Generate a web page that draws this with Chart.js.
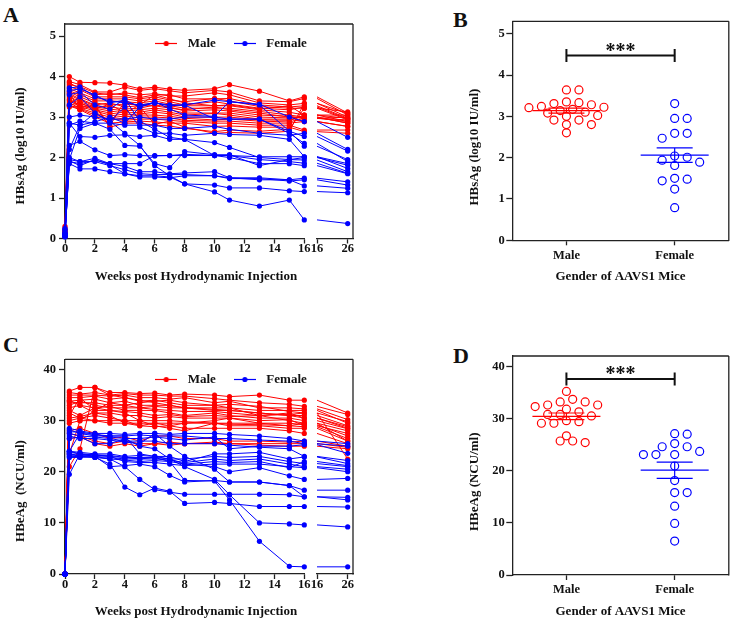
<!DOCTYPE html>
<html>
<head>
<meta charset="utf-8">
<script src="https://cdn.jsdelivr.net/npm/chart.js@4.4.1/dist/chart.umd.min.js"></script>
<style>
html,body{margin:0;padding:0;background:#fff;}
body{width:734px;height:621px;position:relative;overflow:hidden;font-family:'Liberation Serif','Times New Roman',serif;}
canvas{position:absolute;}
.lbl{position:absolute;font-weight:bold;font-size:22px;line-height:22px;color:#111;}
</style>
</head>
<body>
<div class="lbl" style="left:3px;top:4px">A</div>
<div class="lbl" style="left:453px;top:9px">B</div>
<div class="lbl" style="left:3px;top:334px">C</div>
<div class="lbl" style="left:453px;top:345px">D</div>

<canvas id="aL" width="317" height="300" style="left:0;top:0;width:317px;height:300px"></canvas>
<canvas id="aR" width="53" height="300" style="left:305px;top:0;width:53px;height:300px"></canvas>
<canvas id="b" width="354" height="300" style="left:380px;top:0;width:354px;height:300px"></canvas>
<canvas id="cL" width="317" height="311" style="left:0;top:310px;width:317px;height:311px"></canvas>
<canvas id="cR" width="53" height="311" style="left:305px;top:310px;width:53px;height:311px"></canvas>
<canvas id="d" width="354" height="311" style="left:380px;top:310px;width:354px;height:311px"></canvas>
<canvas id="aLeg" width="200" height="90" style="left:129px;top:23px;width:200px;height:90px"></canvas>
<canvas id="cLeg" width="200" height="90" style="left:129px;top:359px;width:200px;height:90px"></canvas>

<script>
// ---------------- DATA ----------------
const weeksEarly = [0, 0.29, 1, 2, 3, 4, 5, 6, 7, 8, 10, 11, 13, 15, 16];
const weeksLate = [16, 26];
const ticksEarly = [0, 2, 4, 6, 8, 10, 12, 14, 16];
const ticksLate = [16, 26];
const hbsTicks = [0, 1, 2, 3, 4, 5];
const hbeTicks = [0, 10, 20, 30, 40];
const groups = ['Male', 'Female'];

// HBsAg (log10 IU/ml) per mouse, values at weeksEarly then week 26
const hbsAgMale = [
  [0.30, 4.00, 3.86, 3.85, 3.84, 3.79, 3.70, 3.74, 3.69, 3.66, 3.70, 3.80, 3.64, 3.40, 3.50, 3.10],
  [0.25, 3.88, 3.80, 3.62, 3.62, 3.74, 3.66, 3.70, 3.65, 3.60, 3.66, 3.62, 3.40, 3.38, 3.46, 3.05],
  [0.20, 3.80, 3.75, 3.60, 3.55, 3.60, 3.55, 3.58, 3.52, 3.52, 3.60, 3.55, 3.35, 3.30, 3.34, 3.00],
  [0.15, 3.85, 3.70, 3.55, 3.58, 3.55, 3.48, 3.55, 3.55, 3.45, 3.45, 3.46, 3.30, 3.25, 3.28, 2.97],
  [0.10, 3.75, 3.67, 3.50, 3.50, 3.50, 3.45, 3.50, 3.42, 3.38, 3.46, 3.40, 3.26, 3.22, 3.22, 2.93],
  [0.12, 3.70, 3.60, 3.45, 3.45, 3.45, 3.40, 3.45, 3.38, 3.30, 3.38, 3.32, 3.22, 3.18, 3.25, 2.95],
  [0.08, 3.65, 3.55, 3.40, 3.40, 3.38, 3.35, 3.40, 3.32, 3.28, 3.28, 3.28, 3.18, 3.12, 3.05, 2.89],
  [0.10, 3.62, 3.50, 3.35, 3.30, 3.32, 3.30, 3.35, 3.28, 3.22, 3.22, 3.22, 3.14, 3.05, 3.00, 2.85],
  [0.05, 3.58, 3.45, 3.30, 3.35, 3.25, 3.28, 3.28, 3.22, 3.18, 3.25, 3.18, 3.10, 3.00, 2.97, 2.93],
  [0.10, 3.55, 3.42, 3.28, 3.25, 3.20, 3.22, 3.30, 3.25, 3.15, 3.18, 3.15, 3.05, 3.02, 2.97, 2.89],
  [0.15, 3.50, 3.38, 3.25, 3.20, 3.15, 3.18, 3.22, 3.18, 3.10, 3.10, 3.10, 3.00, 2.98, 3.00, 2.85],
  [0.10, 3.45, 3.34, 3.22, 3.15, 3.10, 3.12, 3.18, 3.12, 3.05, 3.09, 3.05, 2.95, 2.95, 2.89, 2.77],
  [0.20, 3.42, 3.30, 3.18, 3.10, 3.05, 3.08, 3.12, 3.08, 3.00, 3.00, 3.00, 2.93, 2.92, 3.05, 2.97],
  [0.08, 3.40, 3.26, 3.15, 3.05, 3.00, 3.05, 3.05, 3.02, 2.97, 2.93, 2.95, 2.90, 2.88, 2.97, 3.00],
  [0.12, 3.35, 3.22, 3.10, 3.00, 2.95, 3.00, 3.00, 2.98, 2.92, 2.90, 2.90, 2.85, 2.85, 2.89, 2.77],
  [0.06, 3.30, 3.20, 3.05, 2.95, 2.92, 2.95, 2.95, 2.92, 2.89, 2.85, 2.85, 2.80, 2.80, 2.68, 2.68],
  [0.10, 3.28, 3.18, 3.00, 2.85, 2.88, 2.90, 2.88, 2.85, 2.85, 2.77, 2.78, 2.75, 2.75, 2.64, 2.60],
  [0.05, 3.25, 3.26, 3.28, 2.75, 2.85, 2.85, 2.80, 2.78, 2.72, 2.64, 2.68, 2.65, 2.70, 3.22, 3.13],
  [0.15, 3.60, 3.18, 3.30, 2.78, 3.40, 3.25, 2.82, 2.90, 2.75, 2.60, 2.62, 2.60, 2.65, 3.34, 3.09],
  [0.10, 3.30, 3.35, 3.20, 3.32, 3.10, 3.30, 3.55, 3.45, 3.35, 3.28, 3.30, 3.20, 3.28, 3.05, 3.05]
];
const hbsAgFemale = [
  [0.25, 3.72, 3.75, 3.50, 3.40, 3.35, 3.30, 3.35, 3.30, 3.30, 3.42, 3.38, 3.32, 3.00, 2.89, 2.50],
  [0.20, 3.65, 3.70, 3.55, 3.35, 3.42, 3.25, 3.38, 3.20, 3.05, 3.02, 3.38, 3.30, 2.65, 2.28, 1.95],
  [0.15, 3.55, 3.62, 3.30, 3.20, 3.45, 2.90, 2.70, 2.50, 2.45, 2.05, 2.00, 1.85, 1.85, 1.80, 1.60],
  [0.22, 3.30, 3.50, 3.10, 2.90, 2.60, 2.30, 1.80, 1.55, 1.35, 1.15, 0.95, 0.80, 0.95, 0.46, 0.37],
  [0.10, 3.00, 3.05, 3.00, 2.95, 2.95, 3.00, 2.95, 2.95, 3.00, 3.00, 2.95, 2.95, 2.60, 2.35, 1.90],
  [0.12, 2.85, 2.80, 2.88, 3.00, 2.85, 3.25, 3.35, 3.28, 3.30, 2.95, 2.95, 2.95, 2.65, 2.52, 2.16],
  [0.08, 2.80, 2.90, 2.85, 2.85, 2.80, 2.80, 2.80, 2.72, 2.72, 2.77, 2.70, 2.60, 2.55, 2.60, 2.20],
  [0.10, 2.20, 2.80, 3.10, 2.90, 3.25, 2.75, 2.60, 2.60, 2.55, 2.60, 2.57, 2.55, 2.45, 2.02, 1.85],
  [0.05, 2.85, 2.52, 2.50, 2.55, 2.56, 2.52, 2.55, 2.45, 2.45, 2.37, 2.25, 2.00, 1.95, 2.00, 1.81],
  [0.10, 2.30, 2.40, 2.19, 2.05, 2.07, 2.05, 2.04, 2.05, 2.05, 2.05, 2.05, 2.02, 2.02, 2.02, 1.73],
  [0.08, 1.95, 2.72, 2.85, 2.70, 2.30, 2.28, 1.85, 1.75, 2.15, 2.07, 2.07, 1.80, 1.95, 1.94, 1.65],
  [0.12, 2.00, 1.90, 1.98, 1.85, 1.85, 1.85, 2.05, 2.05, 2.08, 2.05, 2.05, 1.95, 1.90, 1.86, 1.61],
  [0.05, 1.90, 1.85, 1.93, 1.85, 1.78, 1.65, 1.65, 1.60, 1.62, 1.65, 1.50, 1.50, 1.45, 1.49, 1.40],
  [0.06, 1.95, 1.90, 1.90, 1.80, 1.70, 1.60, 1.58, 1.58, 1.58, 1.55, 1.48, 1.48, 1.42, 1.45, 1.32],
  [0.10, 1.85, 1.72, 1.72, 1.65, 1.60, 1.52, 1.52, 1.50, 1.55, 1.55, 1.50, 1.45, 1.45, 1.30, 1.24],
  [0.04, 1.92, 1.80, 1.95, 1.82, 1.60, 1.55, 1.55, 1.52, 1.35, 1.32, 1.25, 1.25, 1.18, 1.16, 1.13]
];

// HBeAg (NCU/ml) per mouse, values at weeksEarly then week 26
const hbeAgMale = [
  [0, 35.8, 36.5, 36.5, 35.5, 35.5, 35.3, 35.4, 35.0, 35.2, 35.0, 34.7, 35.0, 34.0, 34.0, 31.5],
  [0, 35.5, 35.2, 35.5, 35.0, 35.3, 35.0, 35.0, 34.8, 34.8, 34.3, 34.0, 33.5, 33.2, 32.8, 31.2],
  [0, 35.0, 35.0, 35.0, 34.8, 35.0, 34.5, 34.5, 34.2, 34.5, 33.5, 33.8, 32.5, 32.5, 32.3, 30.2],
  [0, 34.5, 34.5, 34.8, 34.2, 34.5, 33.8, 34.0, 33.5, 33.0, 33.0, 33.2, 32.8, 31.8, 31.5, 29.8],
  [0, 33.8, 34.0, 34.2, 33.5, 33.8, 33.0, 33.0, 33.0, 32.5, 32.5, 32.5, 32.0, 32.0, 32.0, 29.5],
  [0, 33.5, 33.5, 33.5, 33.0, 33.0, 32.5, 32.8, 32.5, 32.5, 32.2, 32.0, 31.5, 31.0, 31.0, 29.0],
  [0, 33.0, 33.8, 33.0, 32.5, 32.5, 32.5, 32.2, 32.0, 31.8, 31.8, 31.5, 31.0, 31.5, 30.5, 28.8],
  [0, 32.5, 33.0, 32.5, 32.8, 32.0, 32.0, 32.0, 31.5, 31.0, 31.5, 31.0, 30.5, 30.5, 30.0, 28.4],
  [0, 31.0, 34.5, 32.0, 32.0, 31.8, 31.5, 31.0, 31.2, 30.8, 31.0, 30.8, 31.0, 30.0, 29.5, 28.0],
  [0, 30.5, 30.8, 31.5, 31.5, 31.0, 31.0, 30.5, 30.8, 30.5, 30.5, 30.5, 30.0, 30.2, 29.0, 27.5],
  [0, 30.0, 30.5, 30.0, 30.0, 30.0, 30.0, 30.0, 30.0, 29.8, 29.5, 29.5, 29.5, 29.5, 29.2, 27.0],
  [0, 29.5, 30.0, 30.0, 29.5, 29.5, 29.5, 29.5, 29.5, 29.5, 29.5, 29.3, 29.2, 29.0, 28.8, 26.5],
  [0, 32.0, 31.0, 32.5, 32.0, 31.5, 30.0, 29.0, 28.5, 28.0, 29.5, 29.0, 29.0, 28.5, 28.5, 26.0],
  [0, 31.5, 30.5, 31.0, 30.5, 30.0, 29.0, 28.8, 29.0, 28.5, 28.5, 28.5, 28.5, 28.0, 27.5, 25.5],
  [0, 28.0, 28.5, 27.5, 26.5, 26.8, 26.0, 27.0, 27.0, 26.5, 26.5, 26.0, 26.0, 25.8, 26.0, 25.0],
  [0, 27.5, 27.0, 26.0, 25.5, 26.0, 25.5, 25.5, 25.8, 25.5, 25.5, 25.5, 25.5, 25.5, 25.5, 24.8],
  [0, 26.5, 26.8, 25.5, 25.0, 25.5, 25.0, 25.5, 25.2, 25.5, 25.8, 25.5, 25.2, 25.0, 25.0, 24.5],
  [0, 21.0, 24.5, 36.5, 35.0, 34.5, 34.0, 33.5, 33.0, 32.5, 32.0, 32.0, 31.5, 31.0, 30.5, 28.5],
  [0, 23.5, 30.0, 32.0, 33.5, 33.0, 33.5, 33.8, 34.0, 33.5, 33.0, 32.5, 31.0, 31.2, 31.5, 22.5],
  [0, 34.0, 33.0, 31.5, 31.0, 29.5, 29.0, 29.5, 29.0, 29.5, 30.0, 30.5, 29.5, 29.0, 29.5, 26.0]
];
const hbeAgFemale = [
  [0, 28.5, 28.0, 27.5, 27.5, 27.3, 27.5, 27.5, 27.3, 27.5, 27.5, 27.3, 27.0, 26.5, 26.0, 25.5],
  [0, 28.2, 27.5, 27.0, 27.0, 27.0, 27.2, 27.0, 27.0, 27.0, 26.5, 26.5, 26.2, 26.0, 25.5, 25.0],
  [0, 27.8, 27.8, 27.3, 26.8, 26.5, 26.5, 26.8, 26.5, 26.2, 26.8, 24.5, 25.0, 25.0, 25.3, 23.6],
  [0, 27.5, 27.0, 26.8, 26.5, 26.0, 26.0, 26.0, 25.5, 25.5, 25.5, 25.2, 24.8, 24.5, 23.0, 22.2],
  [0, 27.0, 26.5, 26.5, 26.2, 25.8, 25.5, 27.5, 25.0, 23.0, 20.5, 18.0, 18.0, 17.3, 16.4, 16.4],
  [0, 26.5, 26.8, 25.5, 25.5, 26.5, 25.0, 24.5, 22.5, 21.0, 18.5, 15.5, 10.0, 9.8, 9.6, 9.2],
  [0, 24.0, 23.8, 23.5, 23.5, 23.0, 23.2, 23.0, 23.0, 22.0, 23.5, 23.5, 23.8, 22.5, 22.9, 21.6],
  [0, 23.8, 23.5, 23.3, 23.0, 22.8, 22.8, 22.8, 22.5, 22.5, 23.0, 22.8, 23.0, 22.0, 21.6, 21.0],
  [0, 23.5, 23.2, 23.0, 22.8, 22.5, 22.5, 22.5, 22.3, 21.8, 22.5, 22.2, 22.5, 21.5, 21.0, 20.5],
  [0, 23.2, 23.0, 22.8, 22.5, 22.3, 22.0, 22.2, 22.0, 21.5, 22.0, 21.8, 22.0, 20.8, 22.0, 21.2],
  [0, 23.0, 23.0, 23.3, 23.0, 22.0, 21.8, 21.8, 21.5, 21.2, 21.5, 21.5, 21.5, 21.0, 20.8, 20.0],
  [0, 22.8, 22.8, 23.0, 21.0, 21.2, 21.5, 21.0, 19.3, 18.0, 18.3, 18.0, 18.0, 17.3, 15.1, 15.0],
  [0, 24.0, 23.5, 23.0, 22.5, 21.0, 18.5, 16.5, 16.0, 15.6, 15.6, 15.6, 15.6, 15.5, 15.1, 14.5],
  [0, 23.5, 23.0, 22.8, 21.5, 17.0, 15.5, 16.8, 16.2, 13.8, 14.0, 13.8, 13.2, 13.2, 13.2, 13.1],
  [0, 19.5, 23.5, 23.3, 23.2, 22.8, 22.5, 22.8, 22.0, 18.3, 18.2, 14.5, 6.4, 1.5, 1.4, 1.4],
  [0, 24.0, 27.5, 27.3, 27.0, 27.0, 23.5, 23.0, 22.5, 21.5, 21.0, 20.0, 20.8, 19.2, 18.5, 18.7]
];

// Per-mouse values compared by gender (panels B and D)
const hbsAgGroupMale = [3.64, 3.64, 3.35, 3.33, 3.31, 3.28, 3.24, 3.22, 3.21, 3.17, 3.14, 3.10, 3.08, 3.02, 3.00, 2.91, 2.91, 2.80, 2.80, 2.60];
const hbsAgGroupFemale = [3.31, 2.95, 2.95, 2.59, 2.59, 2.47, 2.04, 2.01, 1.94, 1.89, 1.81, 1.50, 1.48, 1.44, 1.24, 0.79];
const hbeAgGroupMale = [35.2, 33.7, 33.2, 33.2, 32.6, 32.6, 32.3, 31.8, 31.3, 30.8, 30.8, 30.5, 29.6, 29.4, 29.1, 29.1, 26.7, 25.7, 25.7, 25.4];
const hbeAgGroupFemale = [27.1, 27.0, 25.2, 24.6, 24.6, 23.7, 23.1, 23.1, 23.1, 20.9, 18.1, 15.8, 15.8, 13.2, 9.9, 6.5];
const sigLevels = [4.47, 37.6];

// ---------------- STYLE ----------------
const FONT = "'Liberation Serif','Times New Roman',serif";
const INK = '#111';
const AXIS = '#222';
const RED = 'rgb(255,0,0)';
const BLUE = 'rgb(0,0,255)';
const tickFont = {family: FONT, size: 12.5, weight: 'bold'};
const titleFont = {family: FONT, size: 13, weight: 'bold'};

const mean = a => a.reduce((s, v) => s + v, 0) / a.length;
const sem = a => { const m = mean(a); return Math.sqrt(a.reduce((s, v) => s + (v - m) * (v - m), 0) / (a.length - 1)) / Math.sqrt(a.length); };

const framePlugin = {
  id: 'frame',
  afterDraw(chart, args, opts) {
    if (!opts || !opts.on) return;
    const {ctx, chartArea: a} = chart;
    ctx.save();
    ctx.strokeStyle = AXIS; ctx.lineWidth = 1.3;
    ctx.beginPath();
    ctx.moveTo(a.left, a.top);
    ctx.lineTo(opts.toCanvasEdge ? chart.width : a.right, a.top);
    if (opts.right) { ctx.moveTo(a.right, a.top); ctx.lineTo(a.right, a.bottom + 0.6); }
    ctx.stroke();
    ctx.restore();
  }
};

const statsPlugin = {
  id: 'stats',
  afterDatasetsDraw(chart, args, opts) {
    if (!opts || !opts.on) return;
    const {ctx} = chart;
    const xs = chart.scales.x, ys = chart.scales.y;
    ctx.save();
    opts.sets.forEach(s => {
      const cx = xs.getPixelForValue(s.pos);
      const m = mean(s.values), e = sem(s.values);
      const ym = ys.getPixelForValue(m), yh = ys.getPixelForValue(m + e), yl = ys.getPixelForValue(m - e);
      ctx.strokeStyle = s.color; ctx.lineWidth = 1.2;
      ctx.beginPath();
      ctx.moveTo(cx - 34, ym); ctx.lineTo(cx + 34, ym);
      ctx.moveTo(cx - 18, yh); ctx.lineTo(cx + 18, yh);
      ctx.moveTo(cx - 18, yl); ctx.lineTo(cx + 18, yl);
      ctx.moveTo(cx, yh); ctx.lineTo(cx, yl);
      ctx.stroke();
    });
    const x1 = xs.getPixelForValue(1), x2 = xs.getPixelForValue(2), y = ys.getPixelForValue(opts.sig);
    ctx.strokeStyle = '#111'; ctx.lineWidth = 2;
    ctx.beginPath();
    ctx.moveTo(x1, y); ctx.lineTo(x2, y);
    ctx.moveTo(x1, y - 6.5); ctx.lineTo(x1, y + 6.5);
    ctx.moveTo(x2, y - 6.5); ctx.lineTo(x2, y + 6.5);
    ctx.stroke();
    ctx.fillStyle = '#111';
    ctx.font = 'bold 20px ' + FONT;
    ctx.textAlign = 'center'; ctx.textBaseline = 'alphabetic';
    ctx.fillText('***', (x1 + x2) / 2, y + 1);
    ctx.restore();
  }
};

function gridOpts(len) {
  return {display: true, drawOnChartArea: false, drawTicks: true, tickLength: len, tickWidth: 1.3, tickColor: AXIS, color: AXIS};
}
const borderOpts = {display: true, color: AXIS, width: 1.3};

function makeTime(id, male, female, o) {
  const ds = [];
  // Chart.js paints the first dataset on top: female traces first so they sit above the male ones
  const build = (rows, color) => rows.forEach(vals => {
    const xs = o.late ? weeksLate : weeksEarly;
    const off = o.late ? 14 : 0;
    ds.push({
      data: xs.map((w, j) => ({x: w, y: vals[off + j]})),
      borderColor: color, backgroundColor: color, borderWidth: 1,
      pointRadius: o.late ? (c => (c.dataIndex === 0 ? 0 : 2.6)) : 2.6,
      pointBorderWidth: 0, pointHoverRadius: 0, tension: 0, clip: false, fill: false
    });
  });
  build(female, BLUE);
  build(male, RED);
  const yOpts = o.yDisplay === false ? {display: false, min: 0, max: o.yMax} : {
    min: 0, max: o.yMax,
    afterBuildTicks: s => { s.ticks = o.yTicks.map(v => ({value: v})); },
    afterFit: s => { s.width = o.yWidth; },
    grid: gridOpts(6), border: borderOpts,
    ticks: {font: tickFont, color: INK, padding: 3},
    title: {display: true, text: o.yTitle, font: titleFont, color: INK, padding: {top: o.yTitlePad, bottom: 0}}
  };
  return new Chart(document.getElementById(id), {
    type: 'line',
    data: {datasets: ds},
    options: {
      responsive: false, animation: false, events: [],
      layout: {padding: o.padding},
      plugins: {legend: {display: false}, tooltip: {enabled: false}, frame: o.frame},
      scales: {
        x: {
          type: 'linear', min: o.xMin, max: o.xMax,
          afterBuildTicks: s => { s.ticks = o.xTicks.map(v => ({value: v})); },
          afterFit: s => { s.height = o.xHeight; },
          grid: gridOpts(5), border: borderOpts,
          ticks: {font: tickFont, color: INK, padding: -2, maxRotation: 0, autoSkip: false},
          title: o.xTitle ? {display: true, text: o.xTitle, font: titleFont, color: INK, padding: {top: 0, bottom: o.xTitlePad}} : {display: false}
        },
        y: yOpts
      }
    },
    plugins: [framePlugin]
  });
}

function makeGroup(id, maleVals, femaleVals, o) {
  const chart = new Chart(document.getElementById(id), {
    type: 'scatter',
    data: {datasets: [
      {data: maleVals.map(v => ({x: 1, y: v})), borderColor: RED, backgroundColor: 'rgba(0,0,0,0)', borderWidth: 1.2, pointRadius: 4, pointHoverRadius: 4, clip: false},
      {data: femaleVals.map(v => ({x: 2, y: v})), borderColor: BLUE, backgroundColor: 'rgba(0,0,0,0)', borderWidth: 1.2, pointRadius: 4, pointHoverRadius: 4, clip: false}
    ]},
    options: {
      responsive: false, animation: false, events: [],
      layout: {padding: o.padding},
      plugins: {
        legend: {display: false}, tooltip: {enabled: false},
        frame: {on: true, right: true},
        stats: {on: true, sig: o.sig, sets: [{pos: 1, values: maleVals, color: RED}, {pos: 2, values: femaleVals, color: BLUE}]}
      },
      scales: {
        x: {
          type: 'linear', min: 0.5, max: 2.5,
          afterBuildTicks: s => { s.ticks = groups.map((g, i) => ({value: i + 1})); },
          afterFit: s => { s.height = o.xHeight; },
          grid: gridOpts(5), border: borderOpts,
          ticks: {font: tickFont, color: INK, padding: 2.5, maxRotation: 0, autoSkip: false, callback: v => groups[Math.round(v) - 1]},
          title: {display: true, text: 'Gender of AAVS1 Mice', font: titleFont, color: INK, padding: {top: 0, bottom: o.xTitlePad}}
        },
        y: {
          min: 0, max: o.yMax,
          afterBuildTicks: s => { s.ticks = o.yTicks.map(v => ({value: v})); },
          afterFit: s => { s.width = o.yWidth; },
          grid: gridOpts(6), border: borderOpts,
          ticks: {font: tickFont, color: INK, padding: 1.5},
          title: {display: true, text: o.yTitle, font: titleFont, color: INK, padding: {top: o.yTitlePad, bottom: 0}}
        }
      }
    },
    plugins: [framePlugin, statsPlugin]
  });
  // column-scatter arrangement: spread points sideways so circles do not overlap much
  const xs = chart.scales.x, ys = chart.scales.y;
  const step = 6.25, minD = 8;
  [maleVals, femaleVals].forEach((vals, di) => {
    const cx = xs.getPixelForValue(di + 1);
    const placed = [];
    chart.data.datasets[di].data = vals.map(v => {
      const py = ys.getPixelForValue(v);
      let px = cx;
      for (let k = 0; k < 80; k++) {
        const m = Math.ceil(k / 2);
        const cand = cx + (k % 2 === 1 ? m : -m) * step;
        if (placed.every(p => Math.hypot(p[0] - cand, p[1] - py) >= minD)) { px = cand; break; }
      }
      placed.push([px, py]);
      return {x: xs.getValueForPixel(px), y: v};
    });
  });
  chart.update('none');
  return chart;
}

function legendIcon(color) {
  const c = document.createElement('canvas');
  c.width = 22; c.height = 7;
  const g = c.getContext('2d');
  g.strokeStyle = color; g.lineWidth = 1.2;
  g.beginPath(); g.moveTo(0, 3.5); g.lineTo(22, 3.5); g.stroke();
  g.fillStyle = color;
  g.beginPath(); g.arc(11, 3.5, 2.6, 0, Math.PI * 2); g.fill();
  return c;
}

function makeLegend(id) {
  return new Chart(document.getElementById(id), {
    type: 'line',
    data: {datasets: [
      {label: groups[0], data: [], borderColor: RED, backgroundColor: RED},
      {label: groups[1], data: [], borderColor: BLUE, backgroundColor: BLUE}
    ]},
    options: {
      responsive: false, animation: false, events: [],
      layout: {padding: 0},
      scales: {x: {display: false}, y: {display: false}},
      plugins: {
        tooltip: {enabled: false},
        legend: {
          display: true, position: 'top',
          labels: {
            usePointStyle: true, pointStyleWidth: 30, padding: 14, color: INK,
            font: {family: FONT, size: 13, weight: 'bold'},
            generateLabels: ch => ch.data.datasets.map((d, i) => ({
              text: d.label, pointStyle: legendIcon(d.borderColor), fillStyle: d.borderColor,
              strokeStyle: d.borderColor, lineWidth: 0, hidden: false, datasetIndex: i, fontColor: INK
            }))
          }
        }
      }
    }
  });
}

// ---------------- PANELS ----------------
makeTime('aL', hbsAgMale, hbsAgFemale, {
  late: false, padding: {left: 0, top: 24, right: 12.7, bottom: 0},
  xMin: 0, xMax: 16, xTicks: ticksEarly, xHeight: 61.5, xTitlePad: 15.5,
  xTitle: ' '.repeat(7) + 'Weeks post Hydrodynamic Injection',
  yMax: 5.3, yTicks: hbsTicks, yWidth: 65, yTitlePad: 13,
  yTitle: 'HBsAg (log10 IU/ml)' + ' '.repeat(9),
  frame: {on: true, toCanvasEdge: true}
});
makeTime('aR', hbsAgMale, hbsAgFemale, {
  late: true, padding: {left: 12, top: 24, right: 5, bottom: 0},
  xMin: 16, xMax: 27.73, xTicks: ticksLate, xHeight: 61.5,
  yDisplay: false, yMax: 5.3,
  frame: {on: true, right: true}
});
makeTime('cL', hbeAgMale, hbeAgFemale, {
  late: false, padding: {left: 0, top: 49.3, right: 12.7, bottom: 0},
  xMin: 0, xMax: 16, xTicks: ticksEarly, xHeight: 47, xTitlePad: 1.5,
  xTitle: ' '.repeat(7) + 'Weeks post Hydrodynamic Injection',
  yMax: 42, yTicks: hbeTicks, yWidth: 65, yTitlePad: 13,
  yTitle: 'HBeAg  (NCU/ml)' + ' '.repeat(15),
  frame: {on: true, toCanvasEdge: true}
});
makeTime('cR', hbeAgMale, hbeAgFemale, {
  late: true, padding: {left: 12, top: 49.3, right: 5, bottom: 0},
  xMin: 16, xMax: 27.73, xTicks: ticksLate, xHeight: 47,
  yDisplay: false, yMax: 42,
  frame: {on: true, right: true}
});
makeGroup('b', hbsAgGroupMale, hbsAgGroupFemale, {
  padding: {left: 80, top: 21.3, right: 3.3, bottom: 0},
  xHeight: 59.7, xTitlePad: 15.5, yWidth: 52.3, yTitlePad: 7.2,
  yMax: 5.3, yTicks: hbsTicks, yTitle: 'HBsAg (log10 IU/ml)' + ' '.repeat(10),
  sig: sigLevels[0]
});
makeGroup('d', hbeAgGroupMale, hbeAgGroupFemale, {
  padding: {left: 80, top: 46, right: 4, bottom: 0},
  xHeight: 46, xTitlePad: 1.5, yWidth: 52.3, yTitlePad: 7.2,
  yMax: 42, yTicks: hbeTicks, yTitle: 'HBeAg (NCU/ml)' + ' '.repeat(10),
  sig: sigLevels[1]
});
makeLegend('aLeg');
makeLegend('cLeg');
</script>
</body>
</html>
